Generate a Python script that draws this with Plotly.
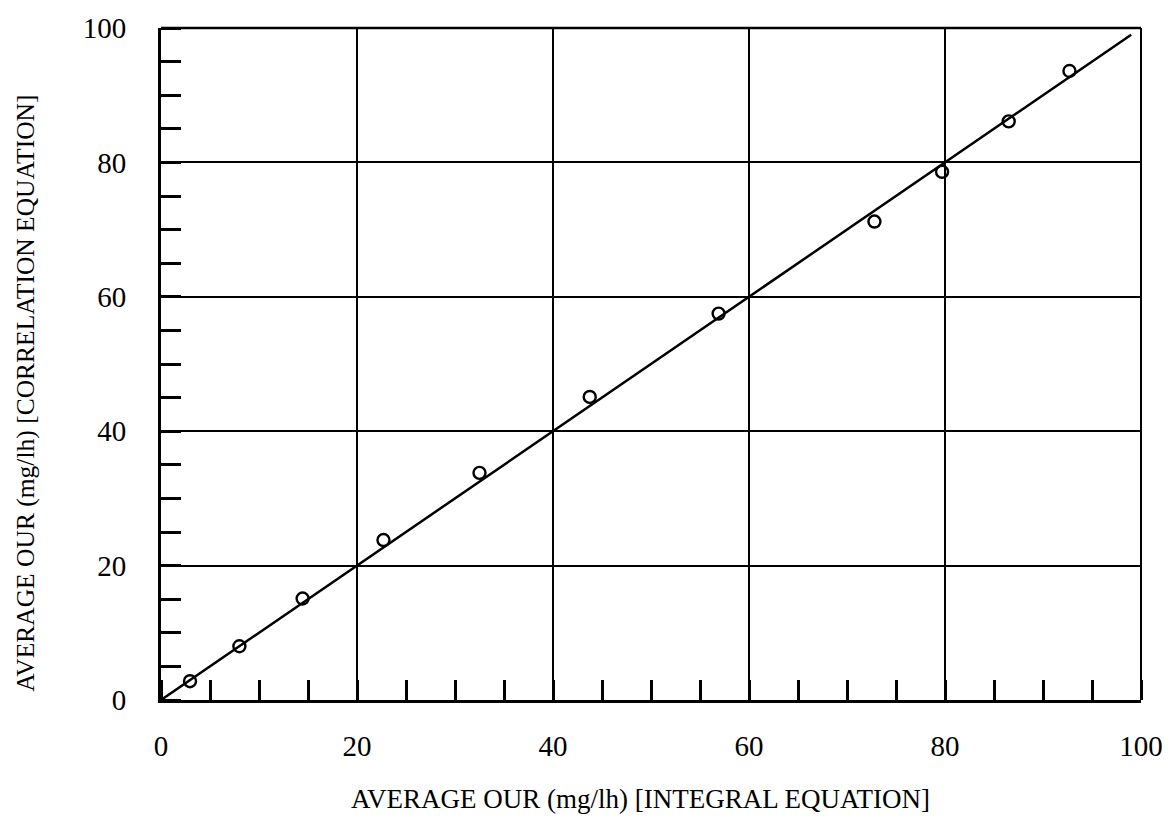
import plotly.graph_objects as go

# Data
x_integral = [2.96, 8.0, 14.45, 22.7, 32.5, 43.75, 56.9, 72.8, 79.7, 86.5, 92.7]
y_correlation = [2.8, 8.0, 15.1, 23.8, 33.8, 45.1, 57.5, 71.2, 78.6, 86.1, 93.6]
line_x = [0, 99]
line_y = [0, 99]
tick_vals = [0, 20, 40, 60, 80, 100]
tick_text = ["0", "20", "40", "60", "80", "100"]

FONT = "Liberation Serif, Times New Roman, serif"

fig = go.Figure()
fig.add_trace(go.Scatter(x=line_x, y=line_y, mode="lines",
                         line=dict(color="black", width=2.5), showlegend=False))
fig.add_trace(go.Scatter(x=x_integral, y=y_correlation, mode="markers",
                         marker=dict(symbol="circle-open", size=12, color="black",
                                     line=dict(width=2.4, color="black")),
                         showlegend=False))

axis_common = dict(
    range=[0, 100], tickvals=tick_vals, ticktext=tick_text,
    showgrid=True, gridcolor="black", gridwidth=1.5,
    zeroline=False, ticks="", showline=True, linecolor="black", linewidth=3,
    tickfont=dict(family=FONT, size=29, color="black"),
    minor=dict(ticks="inside", ticklen=20, tickwidth=3, tickcolor="black", dtick=5, tick0=0, showgrid=False),
)

fig.update_xaxes(**axis_common, ticklabelstandoff=18)
fig.update_yaxes(**axis_common, ticklabelstandoff=26)

# top/right frame
fig.add_shape(type="line", xref="paper", yref="paper", x0=0, x1=1, y0=1, y1=1,
              line=dict(color="black", width=2.5))
fig.add_shape(type="line", xref="paper", yref="paper", x0=1, x1=1, y0=0, y1=1,
              line=dict(color="black", width=2))

fig.add_annotation(text="AVERAGE OUR (mg/lh) [INTEGRAL EQUATION]", xref="paper", yref="paper",
                   x=0.489, y=-0.148, showarrow=False, xanchor="center", yanchor="middle",
                   font=dict(family=FONT, size=27, color="black"))
fig.add_annotation(text="AVERAGE OUR (mg/lh) [CORRELATION EQUATION]", xref="paper", yref="paper",
                   x=-0.1385, y=0.456, showarrow=False, textangle=-90, xanchor="center", yanchor="middle",
                   font=dict(family=FONT, size=25.5, color="black"))

fig.update_layout(
    width=1175, height=840,
    margin=dict(l=161, r=32, t=25, b=140),
    paper_bgcolor="white", plot_bgcolor="white",
    font=dict(family=FONT, color="black"),
)

fig.write_html("out.html")
